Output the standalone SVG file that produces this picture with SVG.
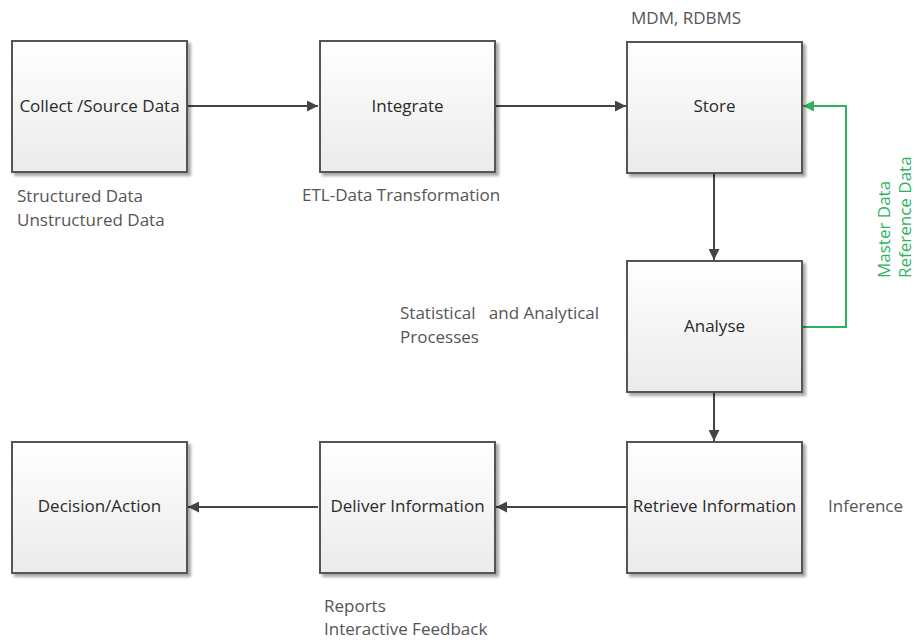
<svg xmlns="http://www.w3.org/2000/svg" width="915" height="640" viewBox="0 0 915 640">
<style>
.box{fill:url(#g);stroke:#555;stroke-width:2}
.bt{font-family:"Open Sans",sans-serif;font-size:17px;fill:#2a2a2a;text-anchor:middle}
.lb{font-family:"Open Sans",sans-serif;font-size:17px;fill:#555}
.gl{font-family:"Open Sans",sans-serif;font-size:17px;fill:#2db35d}
.c{stroke:#444;stroke-width:2;fill:none}
.cg{stroke:#2db35d;stroke-width:2;fill:none}
</style>
<defs>
<linearGradient id="g" x1="0" y1="0" x2="0" y2="1">
<stop offset="0" stop-color="#ffffff"/>
<stop offset="1" stop-color="#ebebeb"/>
</linearGradient>
<filter id="sh" x="-10%" y="-10%" width="130%" height="130%">
<feGaussianBlur in="SourceAlpha" stdDeviation="1.5"/>
<feOffset dx="3" dy="3"/>
<feComponentTransfer><feFuncA type="linear" slope="0.35"/></feComponentTransfer>
<feMerge><feMergeNode/><feMergeNode in="SourceGraphic"/></feMerge>
</filter>
<marker id="a" viewBox="0 0 10 10" refX="10" refY="5" markerWidth="12" markerHeight="11" orient="auto" markerUnits="userSpaceOnUse">
<path d="M0,0 L10,5 L0,10 z" fill="#444"/>
</marker>
<marker id="ag" viewBox="0 0 10 10" refX="10" refY="5" markerWidth="12" markerHeight="11" orient="auto" markerUnits="userSpaceOnUse">
<path d="M0,0 L10,5 L0,10 z" fill="#2db35d"/>
</marker>
</defs>
<rect width="915" height="640" fill="#fff"/>
<g id="connectors">
<line class="c" x1="188" y1="106" x2="318" y2="106" marker-end="url(#a)"/>
<line class="c" x1="496" y1="106" x2="626" y2="106" marker-end="url(#a)"/>
<line class="c" x1="714" y1="174" x2="714" y2="260" marker-end="url(#a)"/>
<line class="c" x1="714" y1="393" x2="714" y2="441" marker-end="url(#a)"/>
<line class="c" x1="626" y1="507" x2="496" y2="507" marker-end="url(#a)"/>
<line class="c" x1="318" y1="507" x2="188" y2="507" marker-end="url(#a)"/>
<polyline class="cg" points="803,327 846,327 846,106 803,106" marker-end="url(#ag)"/>
</g>
<g id="collect"><rect class="box" filter="url(#sh)" x="12" y="41" width="175" height="131"/><text class="bt" x="99.5" y="112">Collect /Source Data</text></g>
<g id="integrate"><rect class="box" filter="url(#sh)" x="320" y="41" width="175" height="131"/><text class="bt" x="407.5" y="112">Integrate</text></g>
<g id="store"><rect class="box" filter="url(#sh)" x="627" y="42" width="175" height="131"/><text class="bt" x="714.5" y="112">Store</text></g>
<g id="analyse"><rect class="box" filter="url(#sh)" x="627" y="261" width="175" height="131"/><text class="bt" x="714.5" y="332">Analyse</text></g>
<g id="retrieve"><rect class="box" filter="url(#sh)" x="627" y="442" width="175" height="131"/><text class="bt" x="714.5" y="512">Retrieve Information</text></g>
<g id="deliver"><rect class="box" filter="url(#sh)" x="320" y="442" width="175" height="131"/><text class="bt" x="407.5" y="512">Deliver Information</text></g>
<g id="decision"><rect class="box" filter="url(#sh)" x="12" y="442" width="175" height="131"/><text class="bt" x="99.5" y="512">Decision/Action</text></g>
<g id="labels">
<text class="lb" x="17" y="202">Structured Data</text>
<text class="lb" x="17" y="226">Unstructured Data</text>
<text class="lb" x="302" y="201">ETL-Data Transformation</text>
<text class="lb" x="631" y="24">MDM, RDBMS</text>
<text class="lb" x="400" y="319" xml:space="preserve">Statistical   and Analytical</text>
<text class="lb" x="400" y="343">Processes</text>
<text class="lb" x="828" y="512">Inference</text>
<text class="lb" x="324" y="612">Reports</text>
<text class="lb" x="324" y="635">Interactive Feedback</text>
<text class="gl" transform="translate(890,278) rotate(-90)">Master Data</text>
<text class="gl" transform="translate(911,278) rotate(-90)">Reference Data</text>
</g>
</svg>
